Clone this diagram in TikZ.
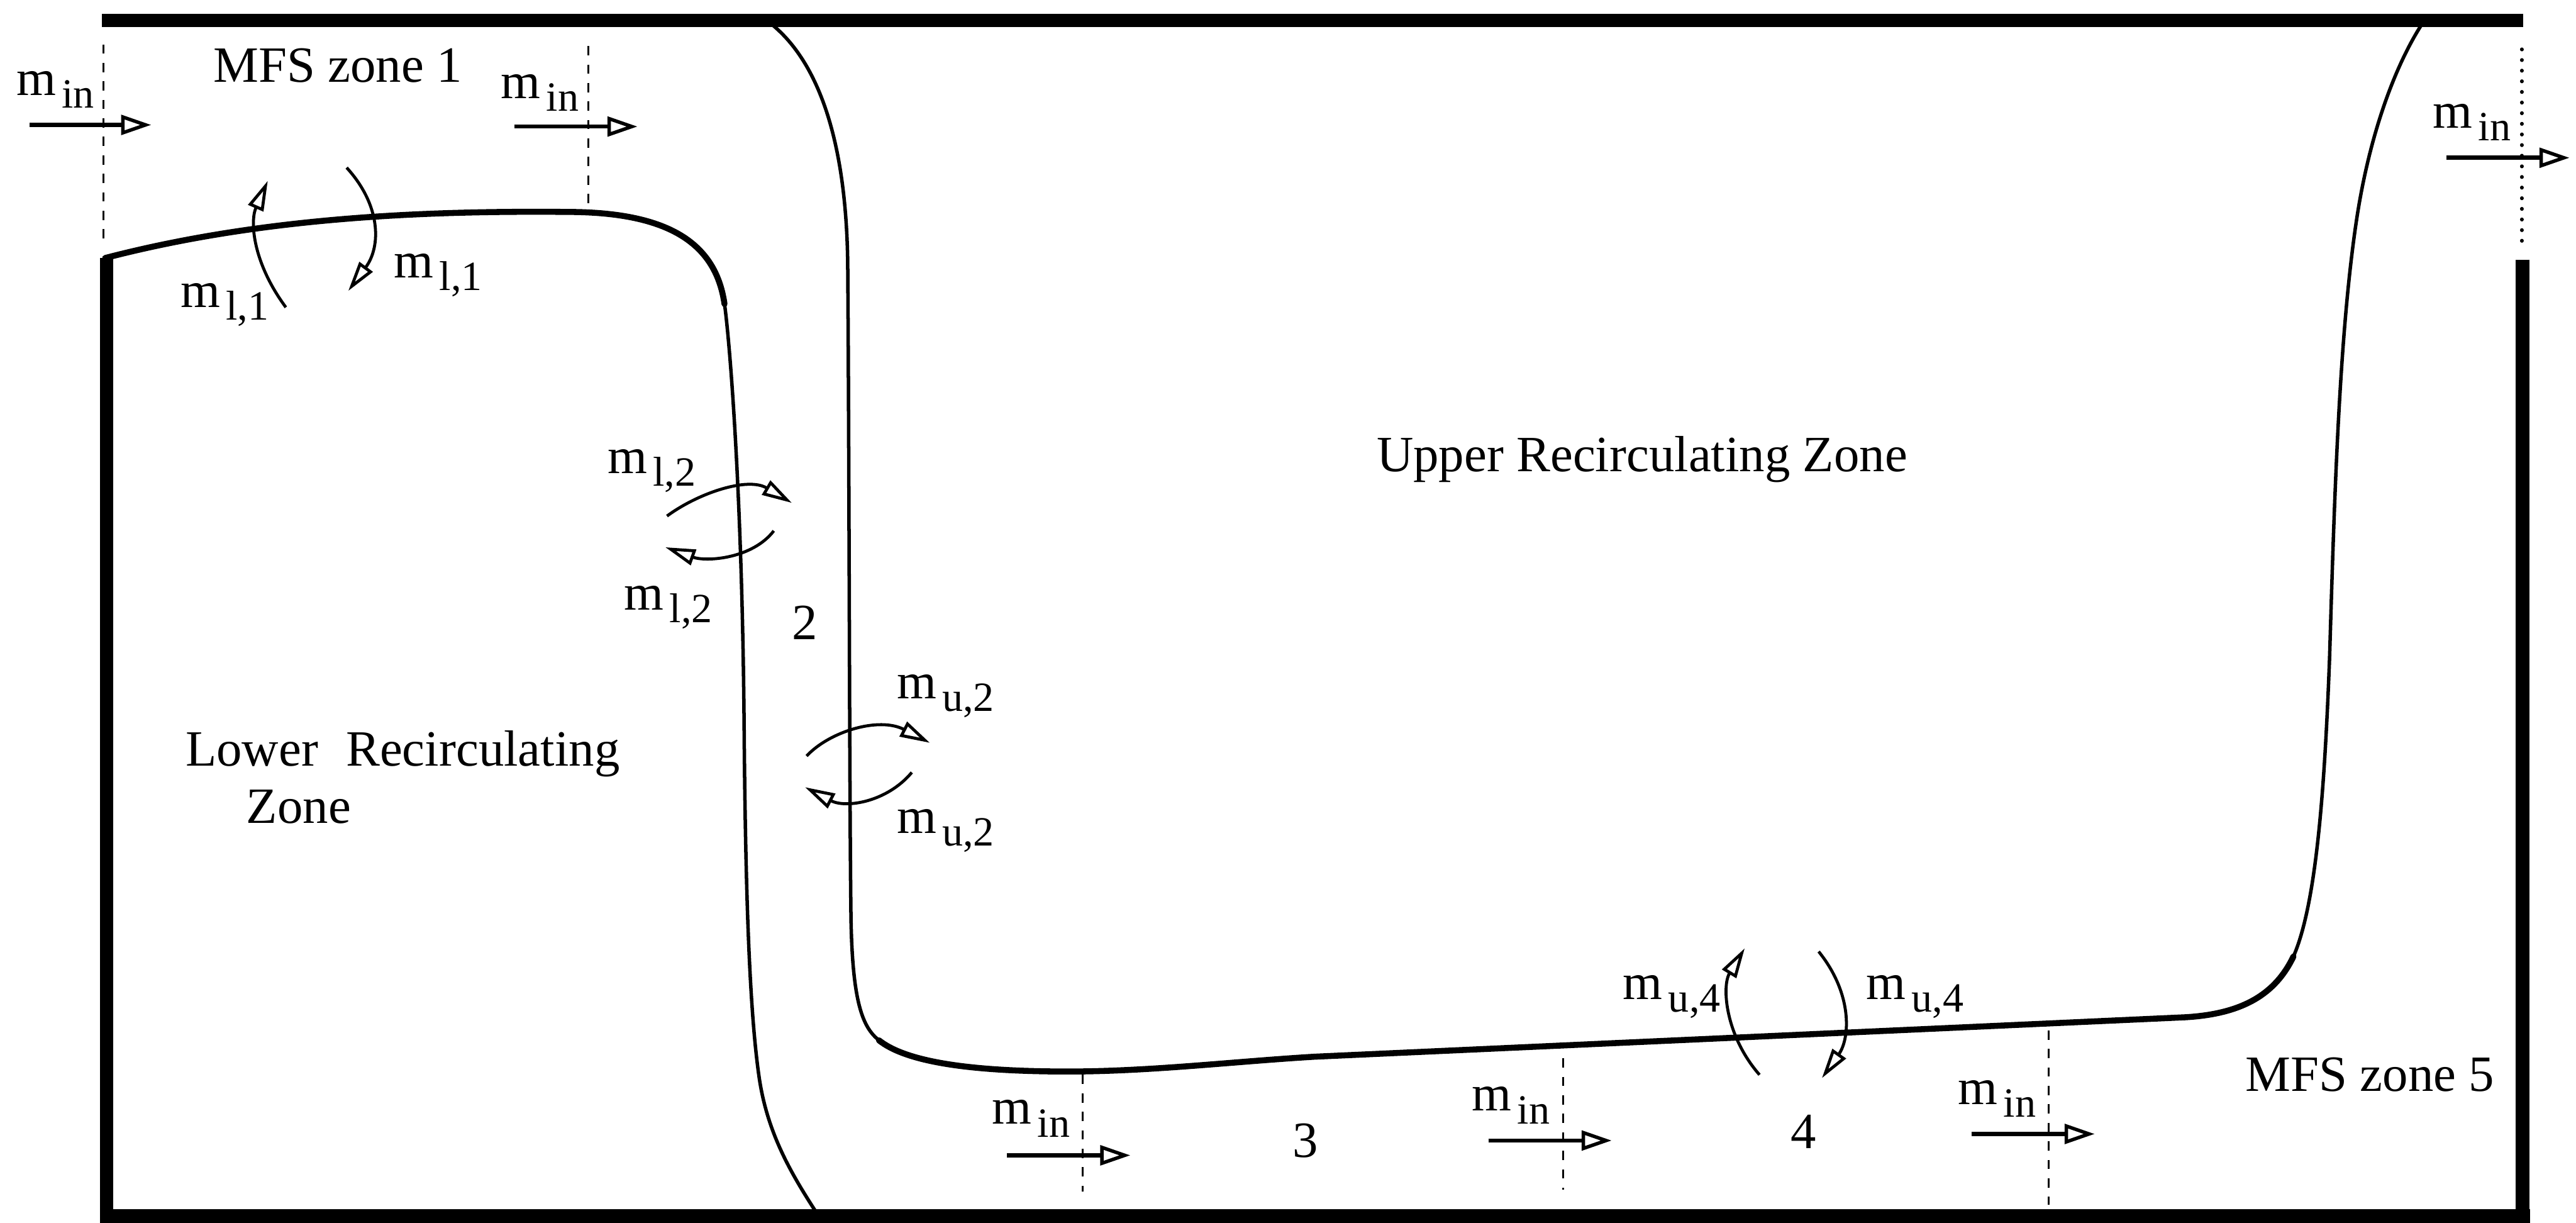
\documentclass[tikz,border=0pt]{standalone}
\usepackage{fontspec}
\setmainfont{Liberation Serif}
\usetikzlibrary{arrows.meta}
\newcommand{\mflow}[1]{m\kern2.5pt\raisebox{-5.5pt}{\fontsize{18}{18}\selectfont #1}}
\begin{document}
\begin{tikzpicture}[x=0.025cm, y=-0.025cm, font=\fontsize{22}{26}\selectfont,
  wall/.style={line width=5.8pt},
  bound/.style={line width=1.5pt, line cap=round},
  boundthick/.style={line width=2.6pt, line cap=round},
  cut/.style={line width=0.9pt, dash pattern=on 4pt off 4pt},
  dotcut/.style={line width=1.6pt, line cap=round, dash pattern=on 0.1pt off 4.5pt},
  inflow/.style={line width=1.8pt, -{Triangle[open, length=13pt, width=8.5pt, line width=1.5pt]}},
  swirl/.style={line width=1.3pt, -{Triangle[open, length=13pt, width=7pt, line width=1.3pt]}},
  lbl/.style={anchor=base west, inner sep=0pt, outer sep=0pt}]
\useasboundingbox (0,0) rectangle (1568,744);

% walls
\draw[wall] (62,12.5) -- (1536,12.5);
\draw[wall] (65,157) -- (65,748);
\draw[wall] (1535.5,158) -- (1535.5,748);
\draw[wall] (62,740) -- (1540,740);

% lower recirculating zone boundary
\draw[boundthick] (64,157) .. controls (160,132) and (260,128) .. (350,129)
  .. controls (410,130) and (436,150) .. (441,185);
\draw[bound] (441,185) .. controls (444,206) and (452,300) .. (453,450)
  .. controls (454,560) and (457,620) .. (462,655)
  .. controls (467,690) and (482,715) .. (499,741);

% upper recirculating zone boundary
\draw[bound] (470,15) .. controls (498,38) and (515,85) .. (516,160)
  .. controls (517,300) and (517,480) .. (518,560)
  .. controls (519,610) and (525,625) .. (535,633);
\draw[boundthick] (535,633) .. controls (550,645) and (585,652) .. (650,652)
  .. controls (700,652) and (750,646) .. (800,643)
  -- (1330,619) .. controls (1365,617) and (1385,605) .. (1396,582);
\draw[bound] (1396,582) .. controls (1410,550) and (1415,480) .. (1418,400)
  .. controls (1421,300) and (1424,200) .. (1435,130)
  .. controls (1443,80) and (1458,40) .. (1474,15);

% zone cuts
\draw[cut] (63,27) -- (63,147);
\draw[cut] (358,28) -- (358,126);
\draw[dotcut] (1535,30) -- (1535,150);
\draw[cut] (659,654) -- (659,725);
\draw[cut] (951.5,644) -- (951.5,724);
\draw[cut] (1247,627) -- (1247,733);

% inflow arrows and labels
\draw[inflow] (18,76) -- (92,76);
\node[lbl] (min1) at (10,58) {\mflow{in}};
\draw[inflow] (313,77) -- (388,77);
\node[lbl] (min2) at (305,60) {\mflow{in}};
\draw[inflow] (1489,96) -- (1564,96);
\node[lbl] (min3) at (1481,78) {\mflow{in}};
\draw[inflow] (613,703) -- (688,703);
\node[lbl] (min4) at (604,684) {\mflow{in}};
\draw[inflow] (906,694) -- (981,694);
\node[lbl] (min5) at (896,676) {\mflow{in}};
\draw[inflow] (1200,690) -- (1275,690);
\node[lbl] (min6) at (1192,672) {\mflow{in}};

% exchange arrows
\draw[swirl] (174,187) .. controls (154,160) and (152,135) .. (163,110);
\draw[swirl] (211,102) .. controls (232,125) and (232,150) .. (212,177);
\node[lbl] (ml1a) at (110,187) {\mflow{l,1}};
\node[lbl] (ml1b) at (240,169) {\mflow{l,1}};

\draw[swirl] (406,314) .. controls (425,300) and (455,290) .. (482,306);
\draw[swirl] (471,323) .. controls (458,340) and (430,342) .. (405,333);
\node[lbl] (ml2a) at (370,288) {\mflow{l,2}};
\node[lbl] (ml2b) at (380,371) {\mflow{l,2}};

\draw[swirl] (491,460) .. controls (505,445) and (535,436) .. (566,452);
\draw[swirl] (555,470) .. controls (540,488) and (515,492) .. (490,479);
\node[lbl] (mu2a) at (546,425) {\mflow{u,2}};
\node[lbl] (mu2b) at (546,507) {\mflow{u,2}};

\draw[swirl] (1071,654) .. controls (1050,630) and (1048,600) .. (1062,577);
\draw[swirl] (1107,579) .. controls (1128,605) and (1126,632) .. (1109,656);
\node[lbl] (mu4a) at (988,608) {\mflow{u,4}};
\node[lbl] (mu4b) at (1136,608) {\mflow{u,4}};

% zone texts
\node[lbl] (mfs1) at (130,50) {MFS zone 1};
\node[lbl] (mfs5) at (1367,664) {MFS zone 5};
\node[lbl] (upper) at (838,287) {Upper Recirculating Zone};
\node[lbl] (lower1) at (113,466) {Lower\hspace{12pt}Recirculating};
\node[lbl] (lower2) at (150,501) {Zone};
\node[lbl] (z2) at (482,389) {2};
\node[lbl] (z3) at (787,704) {3};
\node[lbl] (z4) at (1090,699) {4};
\end{tikzpicture}
\end{document}
